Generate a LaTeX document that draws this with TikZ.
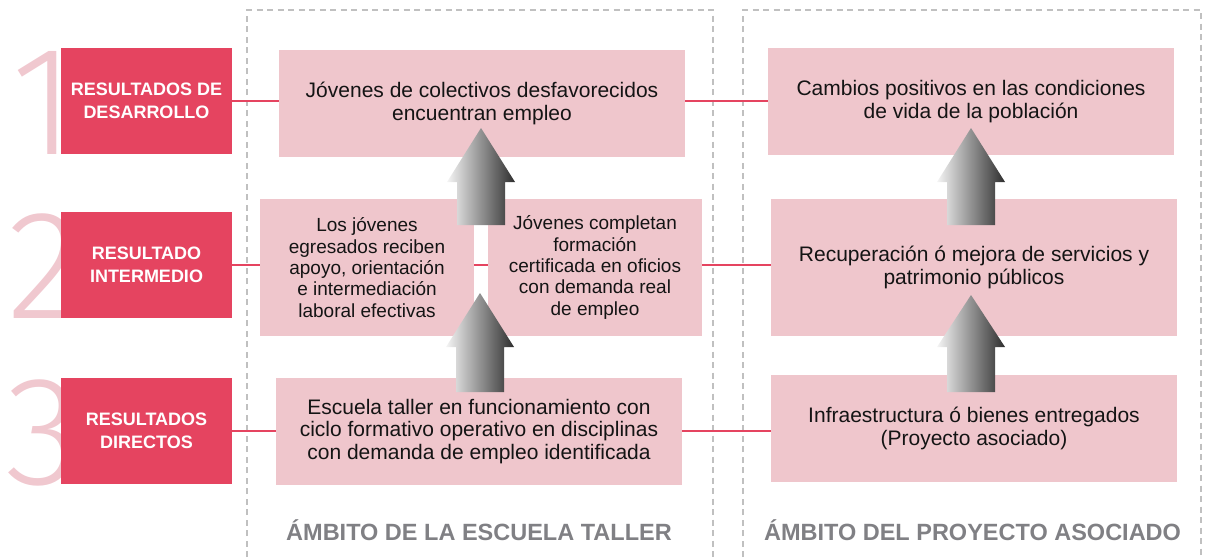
\documentclass[tikz,border=0pt]{standalone}
\usepackage{fontspec}
\setmainfont{Liberation Sans}
\newfontfamily\digitfont{Fira Sans Light}
\definecolor{resred}{RGB}{229,68,96}
\definecolor{respink}{RGB}{239,198,204}
\definecolor{numpink}{RGB}{240,200,207}
\definecolor{ambgray}{RGB}{128,128,132}
\definecolor{dashgray}{RGB}{192,192,192}
\definecolor{inkblack}{RGB}{20,20,20}

\begin{document}
\begin{tikzpicture}[x=1pt, y=-1pt,
  every node/.style = {inner sep=0pt, align=center},
  tierbox/.style = {fill=resred, text=white, minimum width=171pt,
    minimum height=106pt, font=\fontsize{18}{23}\selectfont\bfseries},
  outcome/.style = {fill=respink, text=inkblack, minimum width=406pt,
    minimum height=107pt, font=\fontsize{21}{22.5}\selectfont},
  halfoutcome/.style = {outcome, minimum width=214pt, minimum height=137pt,
    font=\fontsize{19}{21.3}\selectfont},
  bignum/.style = {text=numpink, anchor=base, font=\fontsize{155}{155}\digitfont},
  ambitlabel/.style = {text=ambgray, anchor=base,
    font=\fontsize{23.5}{26}\selectfont\bfseries},
  ambitframe/.style = {draw=dashgray, line width=2pt, dash pattern=on 6pt off 4.5pt},
  redlink/.style = {draw=resred, line width=2pt},
  arrowfill/.style = {left color=black!4, right color=black!82}]
  \useasboundingbox (0,0) rectangle (1205,557);

  % dashed frames of the two scopes
  \draw[ambitframe] (247,557) -- (247,10) -- (713,10) -- (713,557);
  \draw[ambitframe] (743,557) -- (743,10) -- (1201,10) -- (1201,557);

  % level numbers and level names
  \node[bignum] (n1) at (44,154) {1};
  \node[bignum] (n2) at (45,318) {2};
  \node[bignum] (n3) at (43,484) {3};
  \node[tierbox] (t1) at (146.5,101) {RESULTADOS DE\\DESARROLLO};
  \node[tierbox] (t2) at (146.5,265) {RESULTADO\\INTERMEDIO};
  \node[tierbox] (t3) at (146.5,431) {RESULTADOS\\DIRECTOS};

  % results of the school
  \node[outcome] (e1) at (482,103.5) {J\'ovenes de colectivos desfavorecidos\\encuentran empleo};
  \node[halfoutcome] (a2) at (367,267.5) {Los j\'ovenes\\egresados reciben\\apoyo, orientaci\'on\\e intermediaci\'on\\laboral efectivas};
  \node[halfoutcome] (b2) at (595,267.5) {J\'ovenes completan\\formaci\'on\\certificada en oficios\\con demanda real\\de empleo};
  \node[outcome] (e3) at (479,431.5) {Escuela taller en funcionamiento con\\ciclo formativo operativo en disciplinas\\con demanda de empleo identificada};

  % results of the associated project
  \node[outcome] (c1) at (971,101.5) {Cambios positivos en las condiciones\\de vida de la poblaci\'on};
  \node[outcome, minimum height=137pt] (r2) at (974,267.5) {Recuperaci\'on \'o mejora de servicios y\\patrimonio p\'ublicos};
  \node[outcome] (r3) at (974,428.5) {Infraestructura \'o bienes entregados\\(Proyecto asociado)};

  % row links
  \draw[redlink] (t1.east) -- (t1.east -| e1.west);
  \draw[redlink] (t1.east -| e1.east) -- (t1.east -| c1.west);
  \draw[redlink] (t2.east) -- (t2.east -| a2.west);
  \draw[redlink] (t2.east -| a2.east) -- (t2.east -| b2.west);
  \draw[redlink] (t2.east -| b2.east) -- (t2.east -| r2.west);
  \draw[redlink] (t3.east) -- (t3.east -| e3.west);
  \draw[redlink] (t3.east -| e3.east) -- (t3.east -| r3.west);

  % block arrows
  \shade[arrowfill] (457,225) -- (457,182) -- (447,182) -- (481,128) -- (515,182) -- (505,182) -- (505,225) -- cycle;
  \shade[arrowfill] (456,392) -- (456,347) -- (446,347) -- (480,293) -- (514,347) -- (504,347) -- (504,392) -- cycle;
  \shade[arrowfill] (947,225) -- (947,182) -- (937,182) -- (971,128) -- (1005,182) -- (995,182) -- (995,225) -- cycle;
  \shade[arrowfill] (947,392) -- (947,347) -- (937,347) -- (971,295) -- (1005,347) -- (995,347) -- (995,392) -- cycle;

  % scope names
  \node[ambitlabel] (s1) at (479,540.7) {\'AMBITO DE LA ESCUELA TALLER};
  \node[ambitlabel] (s2) at (972.5,540.7) {\'AMBITO DEL PROYECTO ASOCIADO};
\end{tikzpicture}
\end{document}
